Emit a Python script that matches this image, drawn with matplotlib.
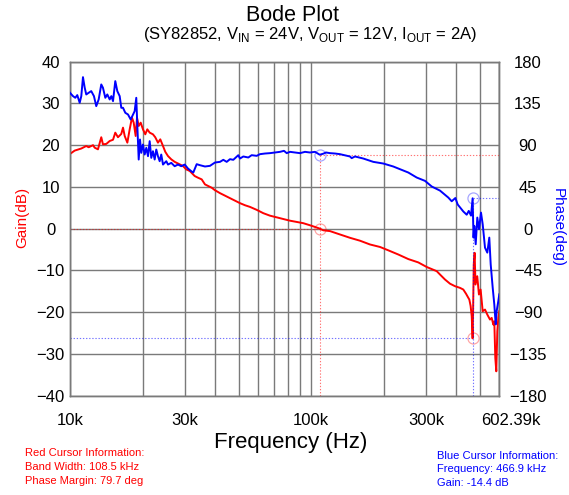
import matplotlib
matplotlib.use("Agg")
import matplotlib.pyplot as plt
from matplotlib.ticker import NullFormatter
from matplotlib.transforms import ScaledTranslation

plt.rcParams["font.family"] = ["Liberation Sans", "DejaVu Sans"]
plt.rcParams["mathtext.fontset"] = "custom"
plt.rcParams["mathtext.rm"] = "Liberation Sans"

# ---- loop gain (dB) vs frequency (kHz) ----
gain_freq_khz = [
    10.0, 10.46, 11.14, 11.68, 11.95, 12.46, 12.66, 13.06, 13.48, 13.70, 14.14, 14.61, 15.08,
    15.41, 15.81, 16.32, 16.59, 16.86, 17.29, 17.68, 18.07, 18.37, 18.72, 18.96, 19.27, 19.64,
    20.07, 20.52, 20.92, 21.40, 22.08, 22.57, 23.16, 23.68, 24.30, 24.84, 25.48, 26.30, 27.17,
    28.50, 29.41, 30.35, 31.40, 32.89, 33.94, 35.16, 36.28, 37.45, 38.68, 39.92,
    41.87, 43.92, 46.06, 48.32, 50.68, 53.16, 55.77, 59.43, 63.30, 67.49, 71.95, 76.62, 81.70,
    87.09, 92.75, 98.86, 103.7, 108.5, 112.2,
    119.7, 131.6, 144.8, 159.4, 175.3, 192.9, 208.7, 229.6, 252.7, 278.0, 301.3, 331.5, 342.0,
    358.7, 376.3, 394.7, 413.9, 427.2, 438.4, 448.3, 452.5, 458.0, 463.0,
    466.9, 469.0, 472.0, 476.0, 480.0, 488.0, 496.0, 504.0, 514.1, 525.5, 537.2, 551.2, 560.2,
    568.9, 574.3, 579.9, 585.4, 591.1, 596.8, 602.39,
]
gain_db = [
    17.9, 18.7, 19.2, 19.8, 19.5, 20.0, 19.4, 19.0, 21.9, 20.2, 20.3, 21.0, 21.3,
    23.0, 21.9, 22.7, 24.2, 22.2, 20.6, 23.8, 26.6, 25.4, 22.2, 26.6, 24.6, 25.4,
    23.8, 22.6, 23.8, 23.0, 22.6, 21.9, 20.6, 21.4, 19.8, 18.4, 17.4, 16.6, 16.0,
    15.4, 15.0, 14.2, 13.8, 12.6, 12.2, 11.8, 10.6, 10.2, 9.8, 9.2,
    8.5, 7.9, 7.3, 6.7, 6.1, 5.6, 5.2, 4.5, 3.7, 3.1, 2.7, 2.3, 1.9,
    1.6, 1.3, 0.8, 0.4, 0.0, -0.4,
    -0.6, -1.4, -2.2, -2.9, -3.8, -4.4, -5.2, -6.2, -7.3, -8.1, -9.2, -10.2, -11.0,
    -12.2, -13.2, -13.8, -14.2, -14.6, -15.6, -16.6, -17.0, -18.5, -21.0,
    -26.3, -20.0, -8.6, -5.8, -13.4, -11.4, -15.8, -14.6, -19.8, -19.4, -20.6, -21.8, -21.4,
    -23.0, -22.2, -31.0, -34.2, -24.6, -21.4, -19.8,
]

# ---- loop phase (deg) vs frequency (kHz) ----
phase_freq_khz = [
    10.0, 10.29, 10.52, 10.72, 10.97, 11.14, 11.32, 11.51, 11.68, 11.95, 12.25, 12.57, 12.85,
    13.15, 13.48, 13.70, 14.01, 14.28, 14.61, 14.84, 15.08, 15.41, 15.71, 16.07, 16.32, 16.59,
    16.96, 17.40, 17.85, 18.25, 18.54, 18.83, 19.01, 19.27, 19.51, 19.75,
    20.07, 20.40, 20.72, 21.06, 21.40, 21.73, 22.08, 22.44, 22.79, 23.16, 23.54, 23.90, 24.30,
    24.70, 25.08, 25.48, 26.30, 27.17, 28.04, 28.93, 29.89, 30.85, 31.84, 32.45,
    33.52, 34.59, 36.28, 38.05, 39.92, 41.87, 43.21, 44.64, 46.06, 47.54, 49.87, 50.68, 52.31,
    54.86, 56.66, 59.43, 61.34, 64.35, 67.49, 70.79, 74.24, 77.14, 79.16, 81.70, 85.68, 89.87,
    94.25, 98.86, 103.7, 108.5, 112.2, 115.2, 119.7, 125.5, 131.6,
    144.8, 147.2, 151.9, 164.4, 180.9, 199.1, 218.9, 237.2, 252.7, 273.8, 296.4, 316.1, 342.0,
    358.7, 370.2, 382.4, 396.0, 405.0, 413.9, 427.2, 441.3, 450.0, 460.0,
    466.9, 469.0, 471.0, 474.5, 480.9, 488.3, 496.3, 505.8, 514.1, 525.5, 537.2, 547.5, 554.9,
    565.6, 574.3, 582.1, 587.5, 596.8, 602.39,
]
phase_deg = [
    146.5, 142.9, 141.1, 144.0, 135.7, 142.9, 163.4, 151.9, 144.7, 146.5, 148.3, 142.9, 132.1,
    139.3, 155.5, 151.9, 141.1, 144.7, 139.3, 142.9, 137.5, 159.1, 148.3, 142.9, 130.3, 130.3,
    124.9, 123.1, 117.7, 123.1, 126.7, 141.1, 112.3, 74.5, 96.1, 81.7,
    90.7, 79.9, 87.1, 78.1, 94.3, 76.3, 83.5, 74.5, 85.3, 78.1, 72.7, 79.9, 69.1,
    70.9, 72.7, 69.1, 70.9, 67.3, 69.1, 67.3, 69.1, 64.8, 61.9, 60.5,
    69.5, 68.4, 67.0, 67.7, 71.3, 72.0, 74.2, 72.0, 74.9, 74.2, 79.2, 75.6, 77.8,
    76.7, 79.2, 78.5, 80.3, 81.0, 81.4, 82.1, 82.8, 83.9, 81.4, 82.8, 82.1, 81.4,
    82.8, 82.1, 82.8, 79.7, 80.8, 82.1, 81.4, 81.0, 80.3,
    77.8, 76.0, 77.8, 75.6, 72.0, 70.2, 67.0, 63.4, 60.5, 55.1, 51.5, 45.4, 41.0,
    36.4, 33.5, 29.5, 33.0, 26.0, 23.0, 18.5, 15.0, 19.1, 14.0,
    32.7, 8.3, -9.7, 2.9, -16.9, 11.9, -0.7, 17.3, 4.7, -20.5, -25.9, -9.7, -38.5,
    -63.7, -81.7, -103.3, -88.9, -78.1, -70.9,
]

# ---- cursor readouts ----
red_cursor_khz = 108.5
red_cursor_gain_db = 0.0
phase_margin_deg = 79.7
blue_cursor_khz = 466.9
blue_cursor_gain_db = -26.3
blue_cursor_phase_deg = 32.7

# ---- axes ----
f_min_khz, f_max_khz = 10.0, 602.39
x_tick_khz = [10, 30, 100, 300, 602.39]
x_tick_labels = ["10k", "30k", "100k", "300k", "602.39k"]
x_grid_khz = [10, 20, 30, 40, 50, 60, 70, 80, 90, 100, 200, 300, 400, 500, 600]
gain_ticks = [-40, -30, -20, -10, 0, 10, 20, 30, 40]
phase_ticks = [-180, -135, -90, -45, 0, 45, 90, 135, 180]

RED = "#ff0000"
BLUE = "#0000ff"
GRID = "#7a7a7a"

fig = plt.figure(figsize=(5.69, 4.95), dpi=100)
ax = fig.add_axes([0.1230, 0.2010, 0.7545, 0.6743])
ax2 = ax.twinx()

ax.set_xscale("log")
ax.set_xlim(f_min_khz, f_max_khz)
ax.set_ylim(-40, 40)
ax2.set_ylim(-180, 180)

ax.set_xticks(x_grid_khz, minor=True)
ax.set_xticks(x_tick_khz, labels=x_tick_labels)
ax.xaxis.set_minor_formatter(NullFormatter())
ax.set_yticks(gain_ticks)
ax2.set_yticks(phase_ticks)

ax.grid(True, which="both", axis="x", color=GRID, linewidth=1.0)
ax.grid(True, which="major", axis="y", color=GRID, linewidth=1.0)
ax.set_axisbelow(True)

ax.tick_params(axis="both", which="both", length=0, labelsize=12)
ax.tick_params(axis="x", pad=12.5)
ax.tick_params(axis="y", pad=14)
ax2.tick_params(axis="y", length=0, labelsize=12, pad=20.7)
for lbl in ax.get_yticklabels():
    lbl.set_horizontalalignment("center")
for lbl in ax2.get_yticklabels():
    lbl.set_horizontalalignment("center")
last = ax.get_xticklabels()[-1]
last.set_transform(last.get_transform() + ScaledTranslation(12 / 100, 0, fig.dpi_scale_trans))

for a in (ax, ax2):
    for sp in a.spines.values():
        sp.set_color(GRID)
        sp.set_linewidth(1.0)

# curves
ax.plot(gain_freq_khz, gain_db, color=RED, linewidth=1.4, zorder=3)
ax2.plot(phase_freq_khz, phase_deg, color=BLUE, linewidth=1.4, zorder=3)

# red cursor (crossover / phase margin)
dot = (0, (1.2, 1.6))
ax.plot([f_min_khz, red_cursor_khz], [red_cursor_gain_db, red_cursor_gain_db],
        color=RED, alpha=0.55, linewidth=0.8, linestyle=dot, zorder=2)
ax2.plot([red_cursor_khz, red_cursor_khz], [-180, phase_margin_deg],
         color=RED, alpha=0.55, linewidth=0.8, linestyle=dot, zorder=2)
ax2.plot([red_cursor_khz, f_max_khz], [phase_margin_deg, phase_margin_deg],
         color=RED, alpha=0.55, linewidth=0.8, linestyle=dot, zorder=2)
ax.plot([red_cursor_khz], [red_cursor_gain_db], marker="o", ms=8, mfc="none",
        mec=RED, mew=0.9, alpha=0.35, zorder=4)
ax2.plot([red_cursor_khz], [phase_margin_deg], marker="o", ms=8, mfc="none",
         mec=BLUE, mew=0.9, alpha=0.35, zorder=4)

# blue cursor
ax.plot([f_min_khz, blue_cursor_khz], [blue_cursor_gain_db, blue_cursor_gain_db],
        color=BLUE, alpha=0.55, linewidth=0.8, linestyle=dot, zorder=2)
ax2.plot([blue_cursor_khz, blue_cursor_khz], [-180, blue_cursor_phase_deg],
         color=BLUE, alpha=0.55, linewidth=0.8, linestyle=dot, zorder=2)
ax2.plot([blue_cursor_khz, f_max_khz], [blue_cursor_phase_deg, blue_cursor_phase_deg],
         color=BLUE, alpha=0.55, linewidth=0.8, linestyle=dot, zorder=2)
ax.plot([blue_cursor_khz], [blue_cursor_gain_db], marker="o", ms=8, mfc="none",
        mec=RED, mew=0.9, alpha=0.35, zorder=4)
ax2.plot([blue_cursor_khz], [blue_cursor_phase_deg], marker="o", ms=8, mfc="none",
         mec=BLUE, mew=0.9, alpha=0.35, zorder=4)

# titles and axis labels
fig.text(292 / 569, 1 - 21 / 495, "Bode Plot", ha="center", va="baseline", fontsize=15.5)
fig.text(310 / 569, 1 - 39 / 495,
         r"(SY82852, V$_\mathregular{IN}$ = 24V, V$_\mathregular{OUT}$ = 12V, "
         r"I$_\mathregular{OUT}$ = 2A)",
         ha="center", va="baseline", fontsize=12)
fig.text(291 / 569, 1 - 448 / 495, "Frequency (Hz)", ha="center", va="baseline", fontsize=16)
fig.text(22 / 569, 1 - 217 / 495, "Gain(dB)", color=RED, rotation=90,
         ha="center", va="center", fontsize=11)
fig.text(558 / 569, 1 - 227 / 495, "Phase(deg)", color=BLUE, rotation=-90,
         ha="center", va="center", fontsize=11)

# cursor information blocks
red_info = ["Red Cursor Information:", "Band Width: 108.5 kHz", "Phase Margin: 79.7 deg"]
blue_info = ["Blue Cursor Information:", "Frequency: 466.9 kHz", "Gain: -14.4 dB"]
for i, line in enumerate(red_info):
    fig.text(25 / 569, 1 - (453 + 14 * i) / 495, line, color=RED,
             ha="left", va="center", fontsize=8)
for i, line in enumerate(blue_info):
    fig.text(437 / 569, 1 - (456 + 13.5 * i) / 495, line, color=BLUE,
             ha="left", va="center", fontsize=8)

fig.savefig("out.png", dpi=100)
